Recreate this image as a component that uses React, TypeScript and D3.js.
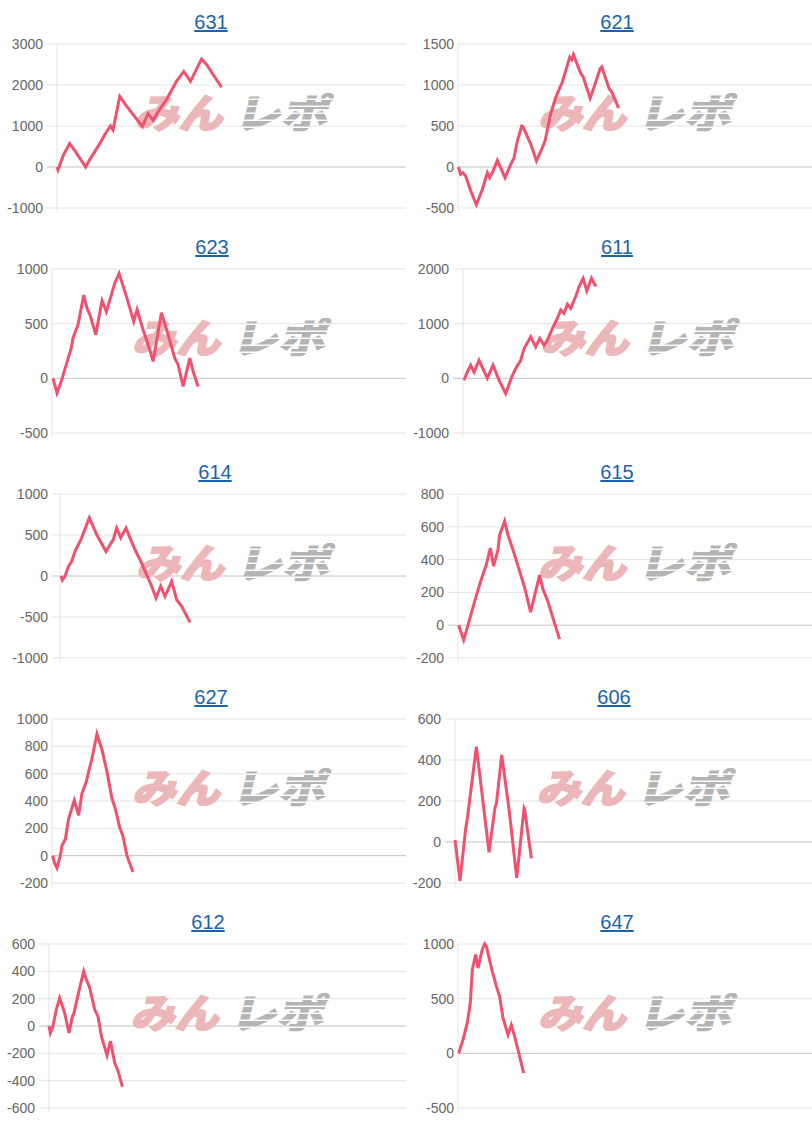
import React from 'react'
import * as d3 from 'd3'

const width = 812
const height = 1125
const panelW = 406
const panelH = 225
const plotTop = 44
const plotBottom = 208
const maxGames = 8000

// machine numbers (panel titles)
const titles = ['631', '621', '623', '611', '614', '615', '627', '606', '612', '647']

// y axis ticks for each panel
const ticks631 = [-1000, 0, 1000, 2000, 3000]
const ticks621 = [-500, 0, 500, 1000, 1500]
const ticks623 = [-500, 0, 500, 1000]
const ticks611 = [-1000, 0, 1000, 2000]
const ticks614 = [-1000, -500, 0, 500, 1000]
const ticks615 = [-200, 0, 200, 400, 600, 800]
const ticks627 = [-200, 0, 200, 400, 600, 800, 1000]
const ticks606 = [-200, 0, 200, 400, 600]
const ticks612 = [-600, -400, -200, 0, 200, 400, 600]
const ticks647 = [-500, 0, 500, 1000]

// [games, coin difference]
const data631: [number, number][] = [
  [0, 0], [23, -70], [150, 300], [291, 570], [420, 380], [658, 0], [750, 180], [870, 380],
  [979, 570], [1100, 800], [1224, 1000], [1285, 900], [1438, 1720], [1600, 1480], [1744, 1280],
  [1958, 990], [2088, 1300], [2203, 1140], [2350, 1400], [2509, 1640], [2738, 2090],
  [2906, 2330], [3059, 2090], [3312, 2630], [3427, 2500], [3600, 2220], [3771, 1950]
]
const data621: [number, number][] = [
  [8, 0], [60, -90], [113, -70], [173, -110], [287, -290], [415, -460], [550, -275],
  [664, -70], [716, -130], [792, -50], [890, 80], [1063, -130], [1191, 30], [1267, 115],
  [1342, 320], [1440, 500], [1470, 490], [1644, 280], [1772, 75], [1908, 240], [1968, 320],
  [2096, 650], [2209, 850], [2360, 1040], [2526, 1340], [2571, 1310], [2609, 1370],
  [2775, 1140], [2827, 1100], [2986, 840], [3076, 975], [3212, 1200], [3250, 1220],
  [3416, 955], [3476, 915], [3627, 720]
]
const data623: [number, number][] = [
  [23, 0], [113, -135], [211, -25], [437, 280], [475, 370], [588, 490], [716, 760],
  [792, 640], [867, 570], [988, 400], [1131, 710], [1229, 610], [1418, 870], [1516, 960],
  [1681, 750], [1847, 520], [1923, 630], [2058, 445], [2172, 310], [2285, 155], [2472, 600],
  [2624, 400], [2775, 185], [2850, 125], [2963, -75], [3113, 185], [3189, 65], [3302, -75]
]
const data611: [number, number][] = [
  [23, -35], [99, 115], [176, 240], [252, 115], [367, 330], [558, 5], [688, 240], [826, -35],
  [979, -280], [1117, 25], [1208, 180], [1323, 330], [1400, 545], [1553, 760], [1667, 575],
  [1759, 730], [1858, 605], [1935, 700], [2050, 915], [2164, 1100], [2241, 1250], [2317, 1190],
  [2394, 1355], [2470, 1280], [2585, 1500], [2662, 1680], [2753, 1830], [2838, 1600],
  [2945, 1830], [3044, 1680]
]
const data614: [number, number][] = [
  [23, 0], [54, -50], [116, 0], [193, 115], [270, 180], [347, 300], [501, 465], [678, 710],
  [848, 505], [1064, 300], [1156, 380], [1233, 445], [1310, 585], [1403, 465], [1526, 585],
  [1618, 465], [1734, 320], [1850, 200], [2004, 15], [2119, -125], [2220, -270], [2328, -125],
  [2428, -250], [2582, -65], [2697, -290], [2813, -370], [3006, -565]
]
const data615: [number, number][] = [
  [15, 0], [128, -90], [226, 0], [376, 145], [504, 260], [640, 370], [730, 470], [805, 360],
  [903, 460], [941, 550], [1054, 635], [1129, 550], [1242, 460], [1392, 330], [1505, 230],
  [1641, 80], [1844, 305], [1919, 220], [2032, 145], [2145, 45], [2295, -85]
]
const data627: [number, number][] = [
  [15, 0], [53, -50], [113, -90], [188, 0], [226, 75], [301, 120], [376, 270], [504, 405],
  [602, 295], [677, 455], [775, 540], [828, 615], [903, 710], [1016, 890], [1129, 775],
  [1242, 615], [1354, 420], [1430, 345], [1528, 210], [1603, 145], [1693, 0], [1829, -120]
]
const data606: [number, number][] = [
  [0, 10], [112, -190], [239, 65], [277, 115], [479, 465], [763, -50], [897, 170], [927, 185],
  [1047, 425], [1211, 160], [1383, -175], [1548, 165], [1560, 160], [1712, -80]
]
const data612: [number, number][] = [
  [0, 0], [30, -50], [90, 0], [164, 120], [239, 205], [351, 95], [449, -50], [523, 70],
  [553, 85], [628, 195], [688, 280], [778, 400], [837, 340], [912, 280], [1024, 120],
  [1099, 70], [1174, -75], [1301, -215], [1376, -110], [1473, -270], [1548, -330], [1645, -445]
]
const data647: [number, number][] = [
  [15, 0], [113, 125], [211, 280], [278, 460], [324, 765], [399, 905], [452, 780], [549, 950],
  [602, 1000], [640, 980], [775, 750], [866, 615], [941, 520], [1016, 325], [1129, 170],
  [1204, 260], [1279, 155], [1354, 35], [1483, -180]
]

const allTicks = [ticks631, ticks621, ticks623, ticks611, ticks614, ticks615, ticks627, ticks606, ticks612, ticks647]
const allData = [data631, data621, data623, data611, data614, data615, data627, data606, data612, data647]

// per panel layout (local pixels)
const axisXs = [57, 52, 52, 57, 60, 52, 52, 49, 49, 52]
const labelRights = [43, 48, 48, 43, 48, 38, 48, 35, 35, 48]
const titleXs = [211, 211, 212, 211, 215, 211, 211, 208, 208, 211]

const lineColor = '#f0516f'
const font = '"Liberation Sans", Arial, sans-serif'

const Panel = ({ i }: { i: number }) => {
  const ox = (i % 2) * panelW
  const oy = Math.floor(i / 2) * panelH
  const ticks = allTicks[i]
  const data = allData[i]
  const axisX = ox + axisXs[i]
  const right = ox + panelW

  const x = d3.scaleLinear().domain([0, maxGames]).range([axisX, right])
  const y = d3.scaleLinear()
    .domain([ticks[0], ticks[ticks.length - 1]])
    .range([oy + plotBottom, oy + plotTop])

  const line = d3.line<[number, number]>()
    .x(d => x(d[0]))
    .y(d => y(d[1]))

  const wmX = (axisX + right) / 2
  const wmY = oy + 128

  return (
    <g>
      <text x={ox + titleXs[i]} y={oy + 29} textAnchor="middle" fontSize={20}
        fontFamily={font} fill="#1a63ad" textDecoration="underline">{titles[i]}</text>
      {ticks.map(t => (
        <line key={'g' + t} x1={ox + labelRights[i] + 4} x2={right} y1={y(t)} y2={y(t)}
          stroke={t === 0 ? '#c2c2c2' : '#e4e4e4'} strokeWidth={1} />
      ))}
      <line x1={axisX} x2={axisX} y1={oy + plotTop} y2={oy + plotBottom + 4} stroke="#e4e4e4" />
      {ticks.map(t => (
        <text key={'l' + t} x={ox + labelRights[i]} y={y(t)} dy="0.35em" textAnchor="end"
          fontSize={14} fontFamily={font} fill="#666">{t}</text>
      ))}
      <g transform={`translate(${wmX},${wmY}) skewX(-14)`}
        fontFamily='"Noto Sans CJK JP", sans-serif' fontWeight={900} fontSize={40}>
        <text x={-97} y={0} fill="#ebb7b8" stroke="#ebb7b8" strokeWidth={1.6}
          textLength={88} lengthAdjust="spacingAndGlyphs">みん</text>
        <text x={2} y={0} fill="url(#stripes)" stroke="url(#stripes)" strokeWidth={1.2}
          textLength={94} lengthAdjust="spacingAndGlyphs">レポ</text>
      </g>
      <path d={line(data) ?? ''} fill="none" stroke={lineColor} strokeWidth={3}
        strokeLinejoin="miter" />
    </g>
  )
}

const App = () => {
  return (
    <svg width={width} height={height} style={{ position: 'absolute', left: 0, top: 0, background: '#fff' }}>
      <defs>
        <pattern id="stripes" patternUnits="userSpaceOnUse" width={10} height={7}>
          <rect width={10} height={7} fill="#fff" />
          <rect width={10} height={5.6} fill="#b4b4b4" />
        </pattern>
      </defs>
      <rect width={width} height={height} fill="#fff" />
      {titles.map((t, i) => <Panel key={t} i={i} />)}
    </svg>
  )
}

export default App
